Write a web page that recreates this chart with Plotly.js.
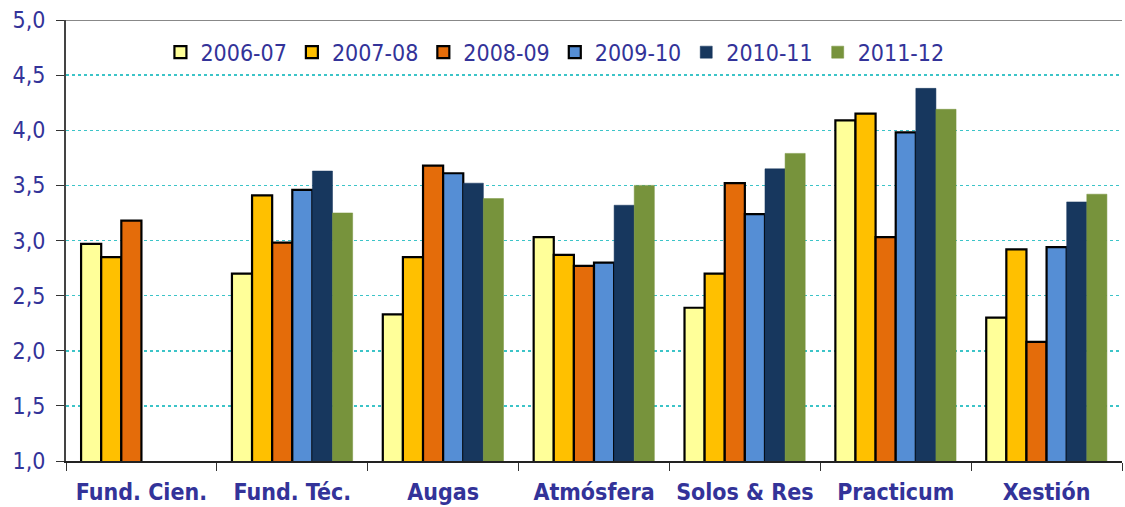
<!DOCTYPE html>
<html><head><meta charset="utf-8">
<script src="https://cdn.plot.ly/plotly-3.0.1.min.js"></script>
<style>html,body{margin:0;padding:0;background:#fff;}#chart{width:1125px;height:507px;}</style>
</head><body><div id="chart"></div>
<script>
const categories = ["Fund. Cien.", "Fund. Téc.", "Augas", "Atmósfera", "Solos & Res", "Practicum", "Xestión"];
const seriesNames = ["2006-07", "2007-08", "2008-09", "2009-10", "2010-11", "2011-12"];
const v2006 = [2.97, 2.70, 2.33, 3.03, 2.39, 4.09, 2.30];
const v2007 = [2.85, 3.41, 2.85, 2.87, 2.70, 4.15, 2.92];
const v2008 = [3.18, 2.98, 3.68, 2.77, 3.52, 3.03, 2.08];
const v2009 = [null, 3.46, 3.61, 2.80, 3.24, 3.98, 2.94];
const v2010 = [null, 3.63, 3.52, 3.32, 3.65, 4.38, 3.35];
const v2011 = [null, 3.25, 3.38, 3.50, 3.79, 4.19, 3.42];
const yTicks = [1, 1.5, 2, 2.5, 3, 3.5, 4, 4.5, 5];

const values = [v2006, v2007, v2008, v2009, v2010, v2011];
const fills = ["#FFFF99", "#FFC000", "#E46C0A", "#558ED5", "#17375E", "#77933C"];
const outlines = ["#000000", "#000000", "#000000", "#000000", "#17375E", "#77933C"];
const outlineW = [2.2, 2.2, 2.2, 2.2, 0.5, 0.5];

const textColor = "#333399";
const fontFam = "DejaVu Sans Condensed, DejaVu Sans, sans-serif";
const traces = values.map((v, i) => ({
  type: "bar", name: seriesNames[i], x: categories, y: v,
  marker: {color: fills[i], line: {color: outlines[i], width: outlineW[i]}},
  hoverinfo: "skip"
}));

const layout = {
  width: 1125, height: 507,
  margin: {l: 66, r: 3, t: 20, b: 46},
  paper_bgcolor: "#fff", plot_bgcolor: "#fff",
  separators: ",.",
  barmode: "group", bargap: 0.2, bargroupgap: 0,
  font: {family: fontFam, color: textColor},
  showlegend: true,
  legend: {orientation: "h", x: 0.463, xanchor: "center", y: 0.927, yanchor: "middle",
    font: {size: 23, color: textColor, family: fontFam}, bgcolor: "rgba(0,0,0,0)", itemwidth: 30, traceorder: "normal"},
  xaxis: {
    type: "category", tickson: "boundaries", ticks: "outside", ticklen: 8, tickcolor: "#333",
    showline: true, linecolor: "#222", linewidth: 2, showgrid: false, ticklabelstandoff: 9,
    tickfont: {size: 23, color: textColor, family: fontFam, weight: "bold"},
    fixedrange: true
  },
  yaxis: {
    range: [1, 5], tickvals: yTicks, tickformat: ".1f", ticks: "outside", ticklen: 8, tickcolor: "#333",
    showline: true, linecolor: "#444", linewidth: 2, ticklabelstandoff: 6,
    showgrid: true, gridcolor: "#3CC4C8", griddash: "dot", gridwidth: 1.5,
    zeroline: false, tickfont: {size: 23, color: textColor, family: fontFam}, fixedrange: true
  },
  shapes: [{type: "line", xref: "paper", yref: "y", x0: 0, x1: 1, y0: 5, y1: 5,
    line: {color: "#888", width: 2}}]
};
Plotly.newPlot("chart", traces, layout, {displayModeBar: false, staticPlot: true});
</script></body></html>
